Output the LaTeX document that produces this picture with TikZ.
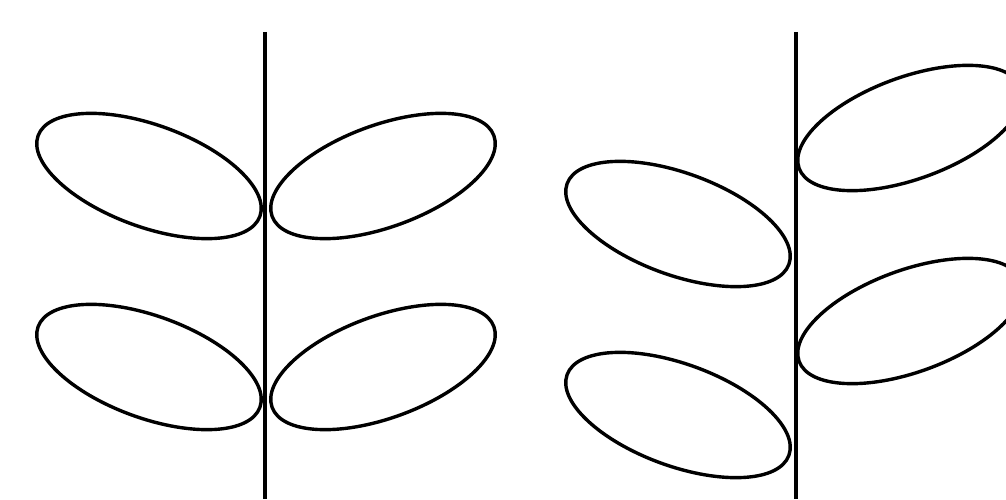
\documentclass[tikz,border=0pt]{standalone}
\begin{document}
\begin{tikzpicture}[x=1pt,y=1pt,
  leaf/.style={draw=black,line width=3.4pt},
  stem/.style={draw=black,line width=3.4pt}]
\useasboundingbox (0,0) rectangle (1006,499);
\clip (0,0) rectangle (1006,499);
\fill[white] (0,0) rectangle (1006,499);
% opposite arrangement
\coordinate (s1top) at (265,467);
\coordinate (s1bot) at (265,0);
\draw[stem] (s1top) -- (s1bot);
\draw[leaf] (149,323) ellipse[x radius=118,y radius=51,rotate=-20];
\draw[leaf] (383,323) ellipse[x radius=118,y radius=51,rotate=20];
\draw[leaf] (149,132) ellipse[x radius=118,y radius=51,rotate=-20];
\draw[leaf] (383,132) ellipse[x radius=118,y radius=51,rotate=20];
% alternate arrangement
\coordinate (s2top) at (796,467);
\coordinate (s2bot) at (796,0);
\draw[stem] (s2top) -- (s2bot);
\draw[leaf] (678,275) ellipse[x radius=118,y radius=51,rotate=-20];
\draw[leaf] (678,84) ellipse[x radius=118,y radius=51,rotate=-20];
\draw[leaf] (910,371) ellipse[x radius=118,y radius=51,rotate=20];
\draw[leaf] (910,178) ellipse[x radius=118,y radius=51,rotate=20];
\end{tikzpicture}
\end{document}
